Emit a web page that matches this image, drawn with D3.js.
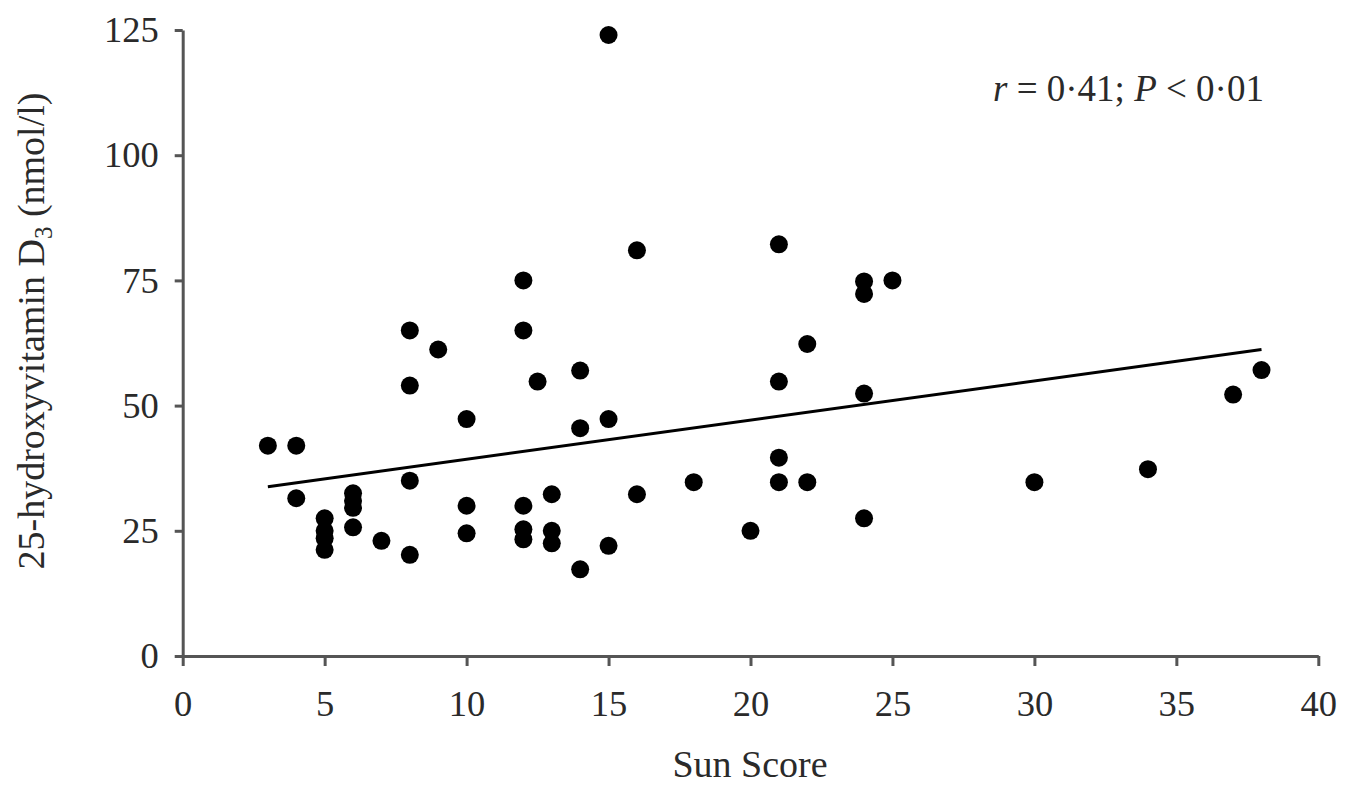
<!DOCTYPE html>
<html>
<head>
<meta charset="utf-8">
<script src="https://cdn.jsdelivr.net/npm/d3@7"></script>
<style>
	body { margin: 0; background: #fff; }
	svg text { font-family: "Liberation Serif", "Times New Roman", serif; fill: #2a2a2a; }
	.axis path, .axis line { stroke: #555; stroke-width: 3; }
</style>
</head>
<body>
<svg id="chart" width="1355" height="785"></svg>
<script>
// sun score vs 25-hydroxyvitamin D3
var sunScore = [3, 4, 4, 5, 5, 5, 5, 6, 6, 6, 6, 7, 8, 8, 8, 8, 9,
	10, 10, 10, 12, 12, 12, 12, 12, 12.5, 13, 13, 13, 14, 14, 14,
	15, 15, 15, 16, 16, 18, 20, 21, 21, 21, 21, 22, 22,
	24, 24, 24, 24, 25, 30, 34, 37, 38];
var vitD = [42, 42, 31.5, 27.5, 25, 23.5, 21.2, 32.5, 31, 29.6, 25.7, 23, 65, 54, 35, 20.2, 61.2,
	47.3, 30, 24.5, 75, 65, 30, 25.3, 23.3, 54.8, 32.3, 25, 22.5, 57, 45.5, 17.3,
	124, 47.3, 22, 81, 32.3, 34.7, 25, 82.2, 54.8, 39.6, 34.7, 62.3, 34.7,
	74.8, 72.3, 52.4, 27.5, 75, 34.7, 37.3, 52.2, 57.1];

// fitted line, ends as drawn
var fitX = [3, 38];
var fitY = [33.8, 61.2];

var xTicks = [0, 5, 10, 15, 20, 25, 30, 35, 40];
var yTicks = [0, 25, 50, 75, 100, 125];

var svg = d3.select("#chart");

var x = d3.scaleLinear().domain([0, 40]).range([182.7, 1318.3]);
var y = d3.scaleLinear().domain([0, 125]).range([656, 30]);

// axes
var xAxis = svg.append("g").attr("class", "axis").attr("transform", "translate(0," + y(0) + ")")
	.call(d3.axisBottom(x).tickValues(xTicks).tickSize(10).tickSizeOuter(0).tickPadding(24));
var yAxis = svg.append("g").attr("class", "axis").attr("transform", "translate(" + x(0) + ",0)")
	.call(d3.axisLeft(y).tickValues(yTicks).tickSize(8).tickSizeOuter(0).tickPadding(16));

svg.selectAll(".axis text").attr("font-size", 36.5).attr("fill", "#2a2a2a")
	.style("font-family", "'Liberation Serif', 'Times New Roman', serif");
svg.selectAll(".axis line").attr("stroke-width", 2.5);

// regression line
svg.append("line")
	.attr("x1", x(fitX[0])).attr("y1", y(fitY[0]))
	.attr("x2", x(fitX[1])).attr("y2", y(fitY[1]))
	.attr("stroke", "#000").attr("stroke-width", 3);

// points
svg.append("g").selectAll("circle")
	.data(sunScore)
	.enter().append("circle")
	.attr("cx", function(d) { return x(d); })
	.attr("cy", function(d, i) { return y(vitD[i]); })
	.attr("r", 9)
	.attr("fill", "#000");

// axis titles
svg.append("text").attr("x", 750).attr("y", 777).attr("text-anchor", "middle")
	.attr("font-size", 38).text("Sun Score");

var yl = svg.append("text").attr("transform", "translate(44,331) rotate(-90)")
	.attr("text-anchor", "middle").attr("font-size", 38);
yl.append("tspan").text("25-hydroxyvitamin D");
yl.append("tspan").attr("font-size", 25).attr("dy", 8).text("3");
yl.append("tspan").attr("dy", -8).text(" (nmol/l)");

// stats note
var note = svg.append("text").attr("x", 993).attr("y", 101).attr("font-size", 37);
note.append("tspan").attr("font-style", "italic").text("r");
note.append("tspan").text(" = 0\u00b741; ");
note.append("tspan").attr("font-style", "italic").text("P");
note.append("tspan").text(" < 0\u00b701");
</script>
</body>
</html>
